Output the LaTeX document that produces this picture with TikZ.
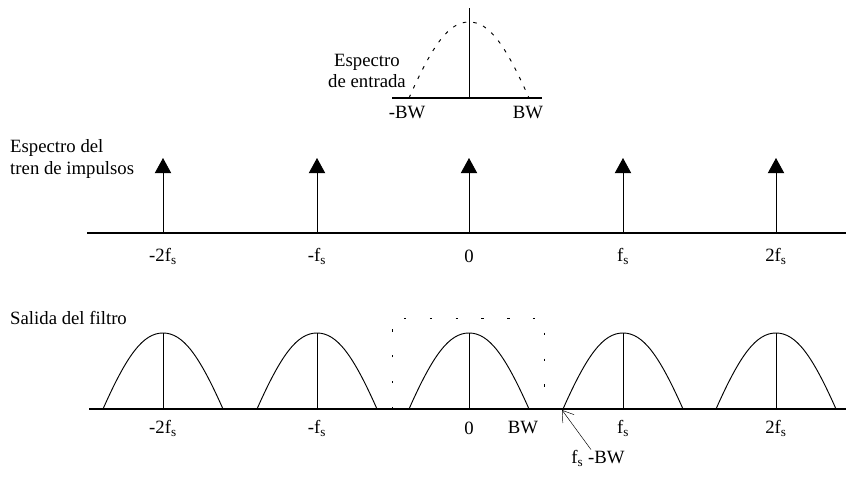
\documentclass[tikz,border=0pt]{standalone}
\usepackage{fontspec}
\setmainfont{Liberation Serif}
\usetikzlibrary{arrows.meta}

\newcommand{\fsamp}{f\textsubscript{s}}

\tikzset{
  axis/.style={line width=1.3pt},
  stem/.style={line width=0.8pt},
  impulse/.style={stem,-{Triangle[width=14pt,length=13pt]}},
  lbl/.style={inner sep=0pt},
  pics/hump/.style={code={
    \draw[line width=0.8pt,#1] (-60,0) .. controls (-36,54) and (-20,76) .. (0,76)
      .. controls (20,76) and (36,54) .. (60,0);}},
}

\begin{document}
\begin{tikzpicture}[x=0.03cm,y=0.03cm,font=\fontsize{16}{19}\selectfont]
\useasboundingbox (0,0) rectangle (846,477);

% espectro de entrada
\coordinate (E0) at (392,379);
\coordinate (E1) at (542,379);
\coordinate (EC) at (469,379);
\coordinate (ET) at (469,469);
\draw[axis] (E0) -- (E1);
\draw[stem] (EC) -- (ET);
\pic at (EC) {hump={dash pattern=on 3pt off 6pt}};
\node[lbl] (ent) at (367,406) [align=center] {Espectro\\[-1pt]de entrada};
\node[lbl] (mbw) at (407,364) {-BW};
\node[lbl] (pbw) at (528,364) {BW};

% tren de impulsos
\coordinate (M0) at (87,244);
\coordinate (M1) at (846,244);
\draw[axis] (M0) -- (M1);
\foreach \x/\n in {163/a,317/b,469/c,623/d,776/e} {
  \coordinate (I\n) at (\x,244);
  \coordinate (T\n) at (\x,319);
  \draw[impulse] (I\n) -- (T\n);
}
\node[lbl,anchor=west] (tren) at (10,318) [align=left] {Espectro del\\tren de impulsos};
\node[lbl] (la) at (163,221) {-2\fsamp};
\node[lbl] (lb) at (317,221) {-\fsamp};
\node[lbl] (lc) at (469,221) {0};
\node[lbl] (ld) at (623,221) {\fsamp};
\node[lbl] (le) at (776,221) {2\fsamp};

% salida del filtro
\coordinate (S0) at (89,68);
\coordinate (S1) at (846,68);
\draw[axis] (S0) -- (S1);
\foreach \x/\n in {163/a,317/b,469/c,623/d,776/e} {
  \coordinate (B\n) at (\x,68);
  \coordinate (P\n) at (\x,144);
  \pic at (B\n) {hump};
  \draw[stem] (B\n) -- (P\n);
}
\draw[thin,dash pattern=on 2pt off 20pt] (392,68) -- (392,159) -- (544,159) -- (544,68);
\node[lbl,anchor=west] (sal) at (10,159) {Salida del filtro};
\node[lbl] (sa) at (163,49) {-2\fsamp};
\node[lbl] (sb) at (317,49) {-\fsamp};
\node[lbl] (sc) at (469,49) {0};
\node[lbl] (sbw) at (523,49) {BW};
\node[lbl] (sd) at (623,49) {\fsamp};
\node[lbl] (se) at (776,49) {2\fsamp};

\coordinate (tip) at (562,67);
\node[lbl] (fsbw) at (598,19) {\fsamp{} -BW};
\draw[thin,-{Straight Barb[length=9pt,width=12pt]}] ([xshift=-6]fsbw.north) -- (tip);
\end{tikzpicture}
\end{document}
